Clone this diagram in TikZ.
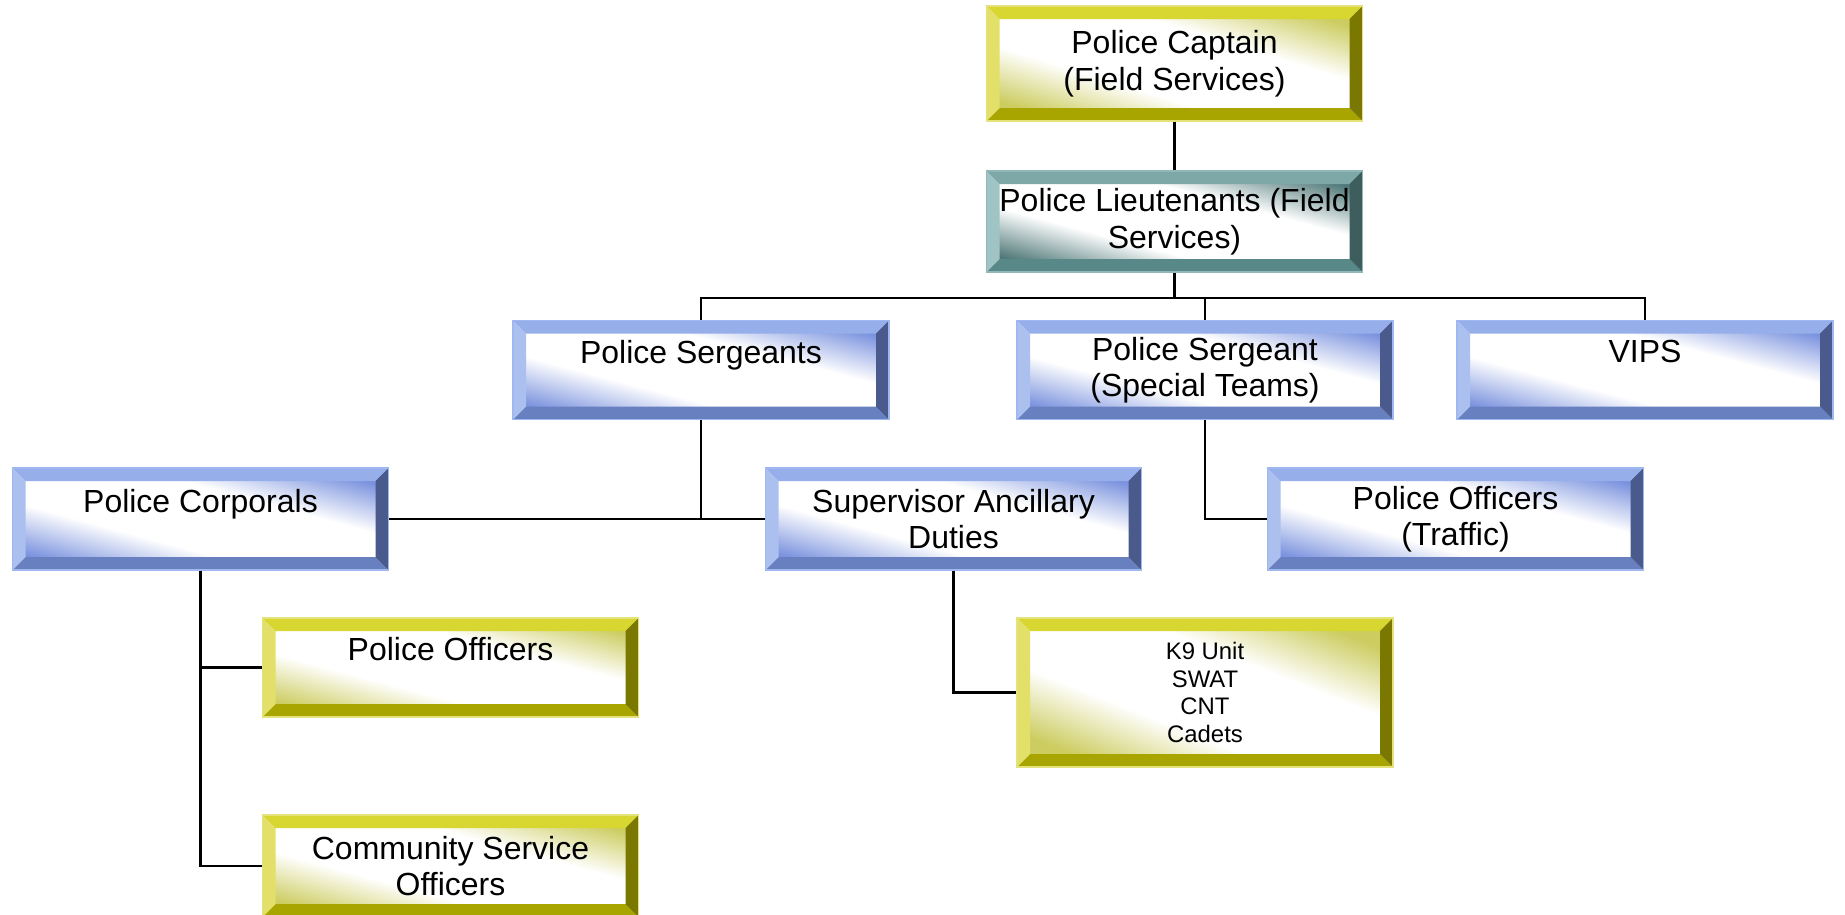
\documentclass[tikz,border=0pt]{standalone}
\usepackage{fontspec}
\setmainfont{Liberation Sans}
\usetikzlibrary{calc}

%% Colores de los biseles
\definecolor{YellowTop}{RGB}{216,214,48}
\definecolor{YellowLeft}{RGB}{226,224,104}
\definecolor{YellowBottom}{RGB}{168,164,0}
\definecolor{YellowRight}{RGB}{122,120,0}
\definecolor{YellowTint}{RGB}{204,204,96}
\definecolor{YellowEdge}{RGB}{228,226,122}
\definecolor{BlueTop}{RGB}{150,174,234}
\definecolor{BlueLeft}{RGB}{172,192,240}
\definecolor{BlueBottom}{RGB}{104,128,192}
\definecolor{BlueRight}{RGB}{74,90,140}
\definecolor{BlueTint}{RGB}{122,146,222}
\definecolor{BlueEdge}{RGB}{160,184,240}
\definecolor{TealTop}{RGB}{126,168,168}
\definecolor{TealLeft}{RGB}{160,196,196}
\definecolor{TealBottom}{RGB}{88,136,136}
\definecolor{TealRight}{RGB}{62,94,94}
\definecolor{TealTint}{RGB}{80,120,120}
\definecolor{TealEdge}{RGB}{144,184,184}
\colorlet{faceTint}{BlueTint}

\newcommand{\bevelWidth}{0.13cm}

\pgfdeclareverticalshading[faceTint]{bevelFace}{100bp}{color(0bp)=(faceTint); color(25bp)=(faceTint); color(40bp)=(white); color(60bp)=(white); color(75bp)=(faceTint); color(100bp)=(faceTint)}

\tikzset{
  bevelBox/.style={rectangle, minimum width=3.76cm, minimum height=0.99cm,
    inner sep=0pt, align=center, font=\fontsize{9.1}{10.4}\selectfont,
    draw=#1Edge, line width=0.4pt,
    path picture={
      \coordinate (pNW) at (path picture bounding box.north west);
      \coordinate (pNE) at (path picture bounding box.north east);
      \coordinate (pSW) at (path picture bounding box.south west);
      \coordinate (pSE) at (path picture bounding box.south east);
      \colorlet{faceTint}{#1Tint}
      % el degradado sigue la diagonal de la caja
      \path let \p1=($(pNE)-(pSW)$) in \pgfextra{\pgfmathsetmacro{\faceAngle}{-atan2(\y1,\x1)}\global\let\faceAngle\faceAngle};
      \shade[shading=bevelFace, shading angle=\faceAngle] (pNW) rectangle (pSE);
      % los cuatro biseles
      \fill[#1Top] (pNW) -- (pNE) -- ($(pNE)+(-\bevelWidth,-\bevelWidth)$) -- ($(pNW)+(\bevelWidth,-\bevelWidth)$) -- cycle;
      \fill[#1Bottom] (pSW) -- (pSE) -- ($(pSE)+(-\bevelWidth,\bevelWidth)$) -- ($(pSW)+(\bevelWidth,\bevelWidth)$) -- cycle;
      \fill[#1Left] (pNW) -- (pSW) -- ($(pSW)+(\bevelWidth,\bevelWidth)$) -- ($(pNW)+(\bevelWidth,-\bevelWidth)$) -- cycle;
      \fill[#1Right] (pNE) -- (pSE) -- ($(pSE)+(-\bevelWidth,\bevelWidth)$) -- ($(pNE)+(-\bevelWidth,-\bevelWidth)$) -- cycle;
    }},
  orgLine/.style={line width=0.6pt, black}
}

\begin{document}
\begin{tikzpicture}

\useasboundingbox (0,0) rectangle (18.45,-9.14);

%% Cajas
\node[bevelBox=Yellow, minimum height=1.15cm] (captain) at (11.745,-0.635) {Police Captain\\(Field Services)};
\node[bevelBox=Teal, minimum height=1.01cm] (lieutenants) at (11.745,-2.215) {Police Lieutenants (Field\\Services)};

\node[bevelBox=Blue] (sergeants) at (7.01,-3.70) {Police Sergeants\\~};
\node[bevelBox=Blue] (specialTeams) at (12.05,-3.70) {Police Sergeant\\(Special Teams)};
\node[bevelBox=Blue] (vips) at (16.45,-3.70) {VIPS\\~};

\node[bevelBox=Blue, minimum height=1.02cm] (corporals) at (2.005,-5.19) {Police Corporals\\~};
\node[bevelBox=Blue, minimum height=1.02cm] (supervisor) at (9.535,-5.19) {Supervisor Ancillary\\Duties};
\node[bevelBox=Blue, minimum height=1.02cm] (traffic) at (14.555,-5.19) {Police Officers\\(Traffic)};

\node[bevelBox=Yellow] (officers) at (4.505,-6.675) {Police Officers\\~};
\node[bevelBox=Yellow, minimum height=1.02cm] (community) at (4.505,-8.66) {Community Service\\Officers};
\node[bevelBox=Yellow, minimum height=1.49cm, font=\fontsize{6.8}{7.8}\selectfont] (units) at (12.05,-6.925) {K9 Unit\\SWAT\\CNT\\Cadets};

%% Conexiones
\coordinate (bus) at ($(lieutenants.south)+(0,-0.25)$);
\draw[orgLine] (captain) -- (lieutenants);
\draw[orgLine] (lieutenants.south) -- (bus);
\draw[orgLine] (sergeants.north) |- (bus) -| (vips.north);
\draw[orgLine] (specialTeams.north) -- (specialTeams.north |- bus);

\draw[orgLine] (corporals.east) -- (supervisor.west);
\draw[orgLine] (sergeants.south) -- (sergeants.south |- corporals.east);
\draw[orgLine] (specialTeams.south) |- (traffic.west);

\draw[orgLine] (corporals.south) |- (community.west);
\draw[orgLine] (corporals.south |- officers.west) -- (officers.west);
\draw[orgLine] (supervisor.south) |- (units.west);

\end{tikzpicture}
\end{document}
